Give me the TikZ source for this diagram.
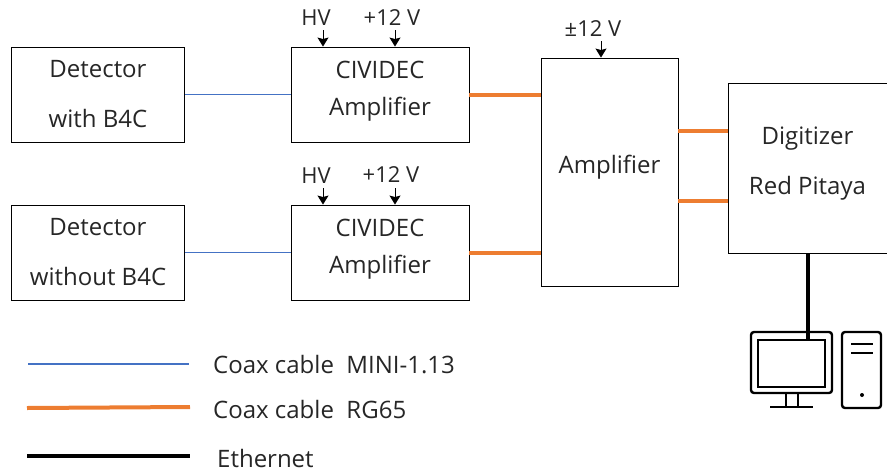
\documentclass[tikz,border=0pt]{standalone}
\usepackage{fontspec}
\setmainfont{Open Sans}
\usetikzlibrary{arrows.meta,positioning}
\definecolor{coaxblue}{RGB}{68,114,196}
\definecolor{coaxorange}{RGB}{237,125,49}
\definecolor{ink}{RGB}{38,38,38}
\tikzset{
  unitbox/.style={draw=black,line width=0.9pt,align=center,text=ink,inner sep=0pt},
  bigtext/.style={font=\fontsize{24}{50}\selectfont},
  amptext/.style={font=\fontsize{24}{37}\selectfont},
  supply/.style={font=\fontsize{22}{24}\selectfont,text=ink,inner sep=0pt},
  legendtext/.style={font=\fontsize{24}{26}\selectfont,text=ink,inner sep=0pt,anchor=west},
  feed/.style={-{Stealth[length=9pt,width=11pt,inset=1.5pt]},line width=0.9pt},
  mini/.style={coaxblue,line width=1.8pt},
  rgcable/.style={coaxorange,line width=4pt},
  ether/.style={black,line width=4pt},
  icon/.style={black,line width=2.4pt}
}
\begin{document}
\begin{tikzpicture}[x=1pt,y=-1pt]
        \useasboundingbox (0,0) rectangle (887,472);
        % boxes
        \node[unitbox,bigtext,minimum width=173pt,minimum height=95pt] (det1) at (98,94.5) {Detector\\with B4C};
        \node[unitbox,bigtext,minimum width=173pt,minimum height=95pt] (det2) at (98,252.5) {Detector\\without B4C};
        \node[unitbox,amptext,minimum width=178pt,minimum height=95pt] (civ1) at (380,94.5) {CIVIDEC\\Amplifier\\[-25pt]\mbox{}};
        \node[unitbox,amptext,minimum width=178pt,minimum height=95pt] (civ2) at (380,252.5) {CIVIDEC\\Amplifier\\[-25pt]\mbox{}};
        \node[unitbox,amptext,minimum width=137pt,minimum height=228pt] (amp) at (609.5,172) {Amplifier\\[-21pt]\mbox{}};
        \node[unitbox,bigtext,minimum width=159pt,minimum height=170pt] (dig) at (807.5,168) {Digitizer\\Red Pitaya\\[-36pt]\mbox{}};
        % supplies
        \node[supply] (hv1) at (316,18) {HV};
        \node[supply] (vp1) at (392,18) {+12 V};
        \node[supply] (hv2) at (316,176) {HV};
        \node[supply] (vp2) at (391,175) {+12 V};
        \node[supply] (vpm) at (593,29) {±12 V};
        \coordinate (hv1in) at (323,30); \coordinate (vp1in) at (395,30);
        \coordinate (hv2in) at (323,188); \coordinate (vp2in) at (395,188);
        \coordinate (vpmin) at (601,41);
        \draw[feed] (hv1in) -- (hv1in |- civ1.north);
        \draw[feed] (vp1in) -- (vp1in |- civ1.north);
        \draw[feed] (hv2in) -- (hv2in |- civ2.north);
        \draw[feed] (vp2in) -- (vp2in |- civ2.north);
        \draw[feed] (vpmin) -- (vpmin |- amp.north);
        % cables
        \draw[mini] (det1.east) -- (civ1.west); \draw[mini] (det2.east) -- (civ2.west);
        \draw[rgcable] (civ1.east) -- (civ1.east -| amp.west); \draw[rgcable] (civ2.east) -- (civ2.east -| amp.west);
        \coordinate (ampout1) at (678,131); \coordinate (ampout2) at (678,201);
        \draw[rgcable] (ampout1) -- (ampout1 -| dig.west); \draw[rgcable] (ampout2) -- (ampout2 -| dig.west);
        % computer
        \node[draw=black,icon,rounded corners=3pt,minimum width=81pt,minimum height=61pt,inner sep=0pt] (bezel) at (791.5,362.5) {};
        \node[draw=black,icon,minimum width=67pt,minimum height=47pt,inner sep=0pt] (screen) at (791.5,363.5) {};
        \node[draw=black,icon,rounded corners=3pt,minimum width=39pt,minimum height=76pt,inner sep=0pt] (tower) at (861.5,370) {};
        \draw[ether] (dig.south) -- (dig.south |- screen.north);
        \draw[icon] (786,393) -- (786,407) (798,393) -- (798,407) (770,407) -- (813,407);
        \draw[icon] (851,344) -- (873,344) (851,353) -- (873,353);
        \fill (862,395) circle (2pt);
        % legend
        \node[legendtext] (leg1) at (213,365) {Coax cable\ \ MINI-1.13};
        \node[legendtext] (leg2) at (213,409) {Coax cable\ \ RG65};
        \node[legendtext] (leg3) at (217,458) {Ethernet};
        \coordinate (leg1a) at (28,364); \coordinate (leg1b) at (189,364);
        \coordinate (leg2a) at (27,408); \coordinate (leg2b) at (190,407);
        \coordinate (leg3a) at (27,456); \coordinate (leg3b) at (190,456);
        \draw[mini] (leg1a) -- (leg1b); \draw[rgcable] (leg2a) -- (leg2b); \draw[ether] (leg3a) -- (leg3b);
      \end{tikzpicture}
\end{document}
